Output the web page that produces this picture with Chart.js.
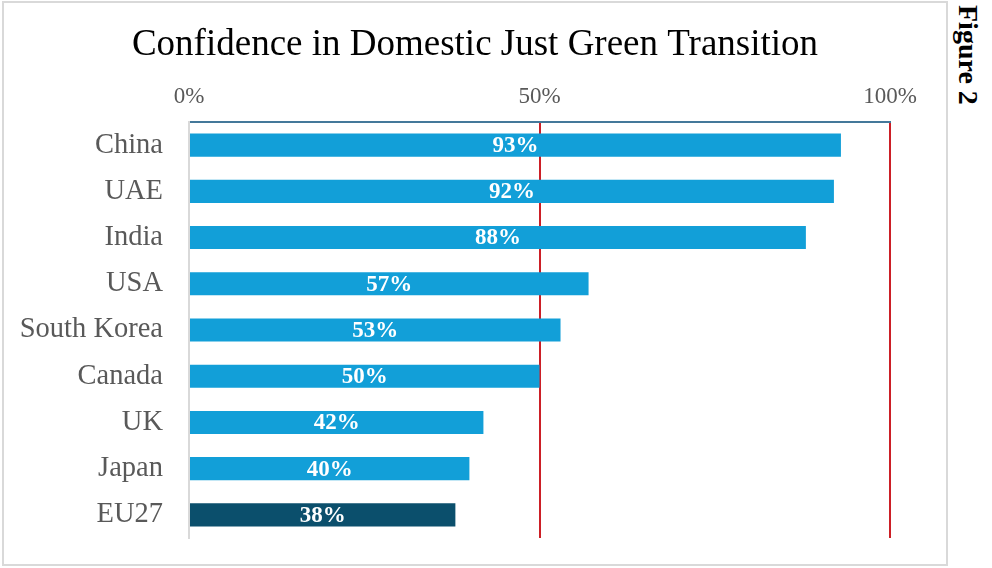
<!DOCTYPE html>
<html>
<head>
<meta charset="utf-8">
<script src="https://cdn.jsdelivr.net/npm/chart.js"></script>
<style>
    body { margin: 0; background: #fff; }
    #frame {
        position: absolute; left: 2px; top: 1px;
        width: 942px; height: 561px;
        border: 2px solid #d9d9d9;
    }
    #figLabel {
        position: absolute; left: 952px; top: 5px;
        writing-mode: vertical-rl;
        font: bold 28px "Liberation Serif", serif;
        color: #000;
    }
</style>
</head>
<body>
<div id="frame"><canvas id="confChart" width="942" height="561"></canvas></div>
<div id="figLabel">Figure 2</div>
<script>
const countries = ['China', 'UAE', 'India', 'USA', 'South Korea', 'Canada', 'UK', 'Japan', 'EU27'];
const confidence = [93, 92, 88, 57, 53, 50, 42, 40, 38];
const tickValues = [0, 50, 100];
const highlighted = 'EU27';

// draws the value in the middle of each bar
const barLabels = {
    id: 'barLabels',
    afterDatasetsDraw(chart) {
        const ctx = chart.ctx;
        const meta = chart.getDatasetMeta(0);
        ctx.save();
        ctx.font = 'bold 23px "Liberation Serif"';
        ctx.fillStyle = '#ffffff';
        ctx.textAlign = 'center';
        ctx.textBaseline = 'middle';
        meta.data.forEach((bar, i) => {
            const x = (bar.base + bar.x) / 2;
            ctx.fillText(confidence[i] + '%', x, bar.y + 1);
        });
        ctx.restore();
    }
};

const ctx = document.getElementById('confChart').getContext('2d');
new Chart(ctx, {
    type: 'bar',
    data: {
        labels: countries,
        datasets: [{
            data: confidence,
            backgroundColor: countries.map(c => c === highlighted ? '#0b4f6c' : '#129fd8'),
            borderWidth: 0,
            categoryPercentage: 1,
            barPercentage: 0.5
        }]
    },
    options: {
        indexAxis: 'y',
        responsive: false,
        devicePixelRatio: 1,
        animation: false,
        layout: { padding: { left: 0, right: 0, top: 0, bottom: 26 } },
        plugins: {
            legend: { display: false },
            tooltip: { enabled: false },
            title: {
                display: true,
                text: 'Confidence in Domestic Just Green Transition',
                color: '#000000',
                font: { family: '"Liberation Serif"', size: 37, weight: 'normal' },
                padding: { top: 20, bottom: 8 }
            }
        },
        scales: {
            x: {
                position: 'top',
                min: 0,
                max: 100,
                afterBuildTicks: scale => {
                    scale.ticks = tickValues.map(v => ({ value: v }));
                },
                afterFit: scale => {
                    scale.height = 46.6;
                    scale.paddingRight = 56;
                },
                ticks: {
                    color: '#595959',
                    padding: 11,
                    font: { family: '"Liberation Serif"', size: 23 },
                    callback: v => v + '%'
                },
                grid: {
                    drawTicks: false,
                    lineWidth: 2,
                    color: c => c.tick && c.tick.value === 0 ? 'rgba(0,0,0,0)' : '#cc1f26'
                },
                border: { color: '#44789a', width: 2 }
            },
            y: {
                afterFit: scale => {
                    scale.width = 185;
                    scale.paddingTop = 0;
                    scale.paddingBottom = 0;
                },
                ticks: {
                    color: '#595959',
                    padding: 26,
                    font: { family: '"Liberation Serif"', size: 28.5 }
                },
                grid: { display: false, drawTicks: false },
                border: { color: '#d9d9d9', width: 2 }
            }
        }
    },
    plugins: [barLabels]
});
</script>
</body>
</html>
